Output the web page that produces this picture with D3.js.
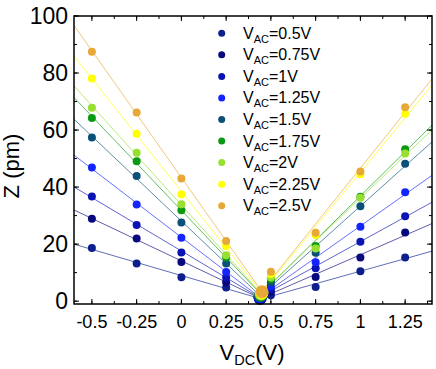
<!DOCTYPE html>
<html>
<head>
<meta charset="utf-8">
<script src="https://cdn.jsdelivr.net/npm/d3@7.9.0/dist/d3.min.js"></script>
<style>
  body { margin: 0; background: #fff; }
  svg { font-family: "Liberation Sans", Arial, sans-serif; }
</style>
</head>
<body>
<svg id="chart" width="436" height="369"></svg>
<script>
// data
const vac = ['0.5', '0.75', '1', '1.25', '1.5', '1.75', '2', '2.25', '2.5'];
const colors = ['#0d1f8c', '#08087e', '#0a14b4', '#1424ff', '#0b5078', '#0a9a12', '#98e030', '#ffff00', '#e8a838'];
const vdc = [-0.5, -0.25, 0, 0.25, 0.5, 0.75, 1, 1.25];
// Z (pm) at each V_DC, one row per V_AC
const z05  = [18.6, 13.2, 8.4, 4.8, 2.1, 5.0, 10.5, 15.3];
const z075 = [28.9, 22.0, 13.7, 6.6, 3.3, 8.5, 15.3, 24.1];
const z1   = [36.7, 26.7, 17.1, 8.3, 4.3, 11.5, 20.8, 29.8];
const z125 = [46.9, 33.9, 22.2, 10.2, 5.3, 13.6, 26.1, 38.2];
const z15  = [57.4, 43.9, 27.6, 13.2, 6.6, 17.0, 33.3, 48.2];
const z175 = [64.2, 49.1, 31.9, 15.3, 7.7, 19.3, 36.6, 53.3];
const z2   = [67.8, 52.0, 34.0, 16.1, 8.3, 18.5, 36.3, 51.8];
const z225 = [78.1, 58.7, 37.5, 19.3, 9.5, 23.2, 44.5, 65.7];
const z25  = [87.5, 66.2, 43.0, 21.1, 10.3, 24.0, 45.5, 68.0];
const zAll = [z05, z075, z1, z125, z15, z175, z2, z225, z25];
// minimum point for each series
const minX = [0.44, 0.44, 0.44, 0.44, 0.44, 0.445, 0.445, 0.45, 0.45];
const minZ = [1.0, 1.2, 1.4, 1.6, 1.9, 2.2, 2.5, 2.9, 3.3];

const xTicks = [-0.5, -0.25, 0, 0.25, 0.5, 0.75, 1, 1.25];
const yTicks = [0, 20, 40, 60, 80, 100];

const svg = d3.select('#chart');
const m = { left: 74, top: 16, right: 4, bottom: 65 };
const W = 436 - m.left - m.right, H = 369 - m.top - m.bottom;

const x = d3.scaleLinear().domain([-0.6, 1.4]).range([m.left, m.left + W]);
const y = d3.scaleLinear().domain([-1, 100]).range([m.top + H, m.top]);

const plot = svg.append('g');
plot.append('clipPath').attr('id', 'clip')
  .append('rect').attr('x', m.left).attr('y', m.top).attr('width', W).attr('height', H);

// least squares fit
function fit(pts) {
  const mx = d3.mean(pts, d => d[0]), my = d3.mean(pts, d => d[1]);
  let sxy = 0, sxx = 0;
  pts.forEach(d => { sxy += (d[0] - mx) * (d[1] - my); sxx += (d[0] - mx) ** 2; });
  const k = sxy / sxx;
  return { k, b: my - k * mx };
}

const lines = plot.append('g').attr('clip-path', 'url(#clip)');
zAll.forEach((zs, i) => {
  const pts = vdc.map((v, j) => [v, zs[j]]);
  const vert = [minX[i], minZ[i]];
  const left = fit(pts.filter(d => d[0] < 0.4).concat([vert]));
  const right = fit([vert].concat(pts.filter(d => d[0] > 0.4)));
  let xi = (right.b - left.b) / (left.k - right.k);
  const seg = [
    [[-0.6, left.k * -0.6 + left.b], [xi, left.k * xi + left.b]],
    [[xi, right.k * xi + right.b], [1.4, right.k * 1.4 + right.b]]
  ];
  seg.forEach(s => {
    lines.append('line')
      .attr('x1', x(s[0][0])).attr('y1', y(s[0][1]))
      .attr('x2', x(s[1][0])).attr('y2', y(s[1][1]))
      .attr('stroke', colors[i]).attr('stroke-opacity', 0.65).attr('stroke-width', 1);
  });
});

const dots = plot.append('g');
zAll.forEach((zs, i) => {
  dots.selectAll(null).data(vdc.map((v, j) => [v, zs[j]])).join('circle')
    .attr('cx', d => x(d[0])).attr('cy', d => y(d[1])).attr('r', 4)
    .attr('fill', colors[i]);
});
zAll.forEach((zs, i) => {
  dots.append('circle')
    .attr('cx', x(minX[i])).attr('cy', y(minZ[i])).attr('r', 6.5)
    .attr('fill', colors[i]);
});

// frame
svg.append('rect').attr('x', m.left).attr('y', m.top).attr('width', W).attr('height', H)
  .attr('fill', 'none').attr('stroke', '#000').attr('stroke-width', 1.5);

// ticks (inward, all four sides)
const xMinor = d3.range(-0.5, 1.4, 0.125);
const yMinor = d3.range(0, 101, 10);
function tickLines(vals, len) {
  vals.forEach(v => {
    svg.append('line').attr('x1', x(v)).attr('x2', x(v)).attr('y1', m.top + H).attr('y2', m.top + H - len).attr('stroke', '#000');
    svg.append('line').attr('x1', x(v)).attr('x2', x(v)).attr('y1', m.top).attr('y2', m.top + len).attr('stroke', '#000');
  });
}
function tickLinesY(vals, len) {
  vals.forEach(v => {
    svg.append('line').attr('y1', y(v)).attr('y2', y(v)).attr('x1', m.left).attr('x2', m.left + len).attr('stroke', '#000');
    svg.append('line').attr('y1', y(v)).attr('y2', y(v)).attr('x1', m.left + W).attr('x2', m.left + W - len).attr('stroke', '#000');
  });
}
tickLines(xMinor, 3);
tickLines(xTicks, 5);
tickLinesY(yMinor, 3);
tickLinesY(yTicks, 5);

svg.append('g').selectAll('text').data(xTicks).join('text')
  .attr('x', d => x(d)).attr('y', 327.5).attr('text-anchor', 'middle')
  .attr('font-size', 18).text(d => d);
svg.append('g').selectAll('text').data(yTicks).join('text')
  .attr('x', 68).attr('y', d => y(d) + 8).attr('text-anchor', 'end')
  .attr('font-size', 23).text(d => d);

// axis titles
const xt = svg.append('text').attr('x', 252).attr('y', 360).attr('text-anchor', 'middle').attr('font-size', 22);
xt.append('tspan').text('V');
xt.append('tspan').attr('font-size', 14.5).attr('dy', 5).text('DC');
xt.append('tspan').attr('dy', -5).text('(V)');

svg.append('text').attr('transform', 'translate(19,166) rotate(-90)')
  .attr('text-anchor', 'middle').attr('font-size', 22).text('Z (pm)');

// legend
const leg = svg.append('g');
vac.forEach((v, i) => {
  const ly = 33.3 + i * 21.55;
  leg.append('circle').attr('cx', 221.7).attr('cy', ly).attr('r', 3.5).attr('fill', colors[i]);
  const t = leg.append('text').attr('x', 243).attr('y', ly + 5.5).attr('font-size', 16);
  t.append('tspan').text('V');
  t.append('tspan').attr('font-size', 11).attr('dy', 4).text('AC');
  t.append('tspan').attr('dy', -4).text('=' + v + 'V');
});
</script>
</body>
</html>
